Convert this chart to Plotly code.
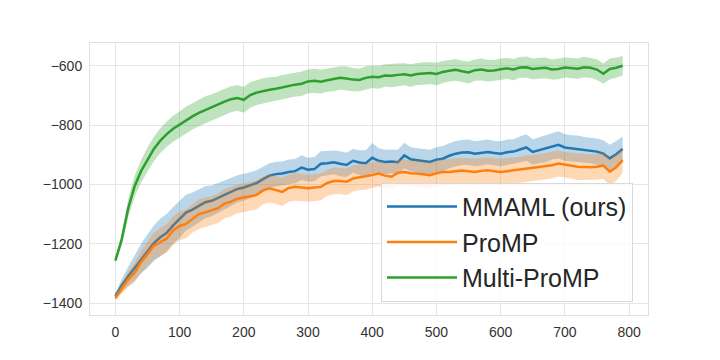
import plotly.graph_objects as go

steps = list(range(0, 800, 10))

mmaml_mean = [-1378, -1340, -1310, -1282, -1250, -1225, -1198, -1178, -1163, -1138,
              -1118, -1095, -1085, -1072, -1060, -1055, -1045, -1036, -1025, -1015,
              -1010, -1003, -995, -982, -970, -965, -963, -958, -955, -943,
              -950, -948, -930, -928, -925, -930, -934, -920, -926, -928,
              -910, -920, -924, -922, -925, -902, -915, -918, -922, -924,
              -916, -913, -903, -896, -892, -891, -896, -893, -890, -894,
              -896, -891, -889, -882, -875, -890, -884, -880, -872, -866,
              -875, -878, -880, -884, -885, -889, -896, -912, -898, -880]
mmaml_half = [10, 22, 32, 42, 50, 56, 60, 63, 63, 62,
              62, 60, 58, 56, 54, 52, 50, 48, 47, 46,
              45, 44, 43, 43, 42, 42, 41, 42, 41, 42,
              40, 41, 42, 41, 40, 42, 41, 40, 42, 44,
              50, 42, 41, 40, 42, 43, 41, 40, 42, 41,
              42, 43, 42, 43, 42, 43, 42, 43, 42, 41,
              42, 43, 42, 44, 45, 43, 44, 45, 44, 46,
              45, 44, 45, 44, 43, 44, 45, 46, 45, 42]

promp_mean = [-1383, -1352, -1320, -1298, -1262, -1235, -1207, -1195, -1182, -1155,
              -1140, -1133, -1115, -1100, -1094, -1087, -1080, -1065, -1058, -1048,
              -1045, -1040, -1035, -1020, -1013, -1018, -1025, -1012, -1008, -1010,
              -1013, -1010, -1008, -995, -988, -988, -991, -980, -976, -974,
              -968, -963, -970, -974, -960, -958, -962, -963, -966, -969,
              -962, -958, -958, -956, -953, -955, -958, -954, -952, -955,
              -958, -955, -952, -950, -946, -944, -941, -938, -935, -929,
              -933, -936, -940, -941, -942, -940, -936, -957, -942, -918]
promp_half = [8, 18, 26, 32, 38, 42, 45, 47, 48, 48,
              48, 49, 48, 50, 49, 48, 50, 49, 50, 48,
              49, 48, 49, 47, 48, 47, 48, 46, 47, 46,
              45, 46, 45, 44, 45, 44, 45, 44, 43, 44,
              43, 44, 43, 44, 43, 44, 43, 44, 43, 44,
              43, 44, 43, 44, 43, 44, 45, 44, 43, 44,
              45, 44, 43, 44, 45, 44, 43, 44, 45, 44,
              43, 44, 45, 44, 43, 44, 45, 46, 45, 42]

multi_mean = [-1257, -1185, -1080, -1006, -955, -915, -880, -852, -830, -812,
              -798, -782, -770, -758, -748, -740, -730, -720, -712, -708,
              -714, -698, -690, -684, -680, -677, -672, -668, -663, -660,
              -652, -650, -653, -648, -645, -640, -642, -646, -647, -640,
              -636, -638, -632, -633, -630, -628, -632, -627, -625, -624,
              -627, -620, -616, -613, -618, -622, -614, -612, -616, -615,
              -611, -608, -612, -605, -604, -610, -608, -606, -612, -610,
              -605, -607, -609, -604, -606, -612, -626, -610, -606, -599]
multi_half = [8, 20, 30, 36, 38, 40, 41, 42, 43, 44,
              44, 45, 44, 45, 46, 45, 44, 45, 44, 43,
              44, 43, 42, 43, 42, 41, 42, 41, 40, 41,
              40, 41, 40, 39, 40, 39, 40, 39, 38, 39,
              38, 39, 38, 39, 38, 37, 38, 37, 38, 37,
              38, 37, 36, 37, 36, 37, 36, 37, 36, 35,
              36, 35, 36, 35, 36, 35, 36, 35, 34, 35,
              34, 35, 34, 35, 34, 35, 34, 35, 34, 33]

series_names = ["MMAML (ours)", "ProMP", "Multi-ProMP"]
series_colors = ["#1f77b4", "#ff7f0e", "#2ca02c"]
band_colors = ["rgba(31,119,180,0.3)", "rgba(255,127,14,0.3)", "rgba(44,160,44,0.3)"]
means = [mmaml_mean, promp_mean, multi_mean]
halves = [mmaml_half, promp_half, multi_half]

fig = go.Figure()
for name, col, bcol, m, h in zip(series_names, series_colors, band_colors, means, halves):
    lower = [a - b for a, b in zip(m, h)]
    upper = [a + b for a, b in zip(m, h)]
    fig.add_trace(go.Scatter(x=steps, y=lower, mode="lines", line=dict(width=0, color=bcol),
                             showlegend=False, hoverinfo="skip"))
    fig.add_trace(go.Scatter(x=steps, y=upper, mode="lines", line=dict(width=0, color=bcol),
                             fill="tonexty", fillcolor=bcol, showlegend=False, hoverinfo="skip"))
    fig.add_trace(go.Scatter(x=steps, y=m, mode="lines", name=name, legendgroup=name,
                             line=dict(color=col, width=2.5)))

axis_common = dict(showgrid=True, gridcolor="#e6e6e6", gridwidth=1, zeroline=False,
                   showline=True, linecolor="#e0e0e0", linewidth=1, mirror=True,
                   ticks="outside", ticklen=4, tickcolor="rgba(0,0,0,0)",
                   tickfont=dict(family="Liberation Sans, Arial", size=14, color="#333333"))

fig.update_layout(
    width=720, height=360,
    margin=dict(l=82, r=80, t=35, b=53),
    paper_bgcolor="white", plot_bgcolor="white",
    xaxis=dict(range=[-39.5, 829.5], tickmode="array", tickvals=list(range(0, 801, 100)),
               **axis_common),
    yaxis=dict(range=[-1440.5, -522.4], tickmode="array",
               tickvals=[-1400, -1200, -1000, -800, -600], **axis_common),
    legend=dict(x=0.5215, y=0.049, xanchor="left", yanchor="bottom",
                bgcolor="rgba(255,255,255,0.8)", bordercolor="#d9d9d9", borderwidth=1,
                font=dict(family="Liberation Sans, Arial", size=25, color="#262626"),
                itemwidth=70, tracegroupgap=0),
    showlegend=True,
)

fig.write_html("out.html")
